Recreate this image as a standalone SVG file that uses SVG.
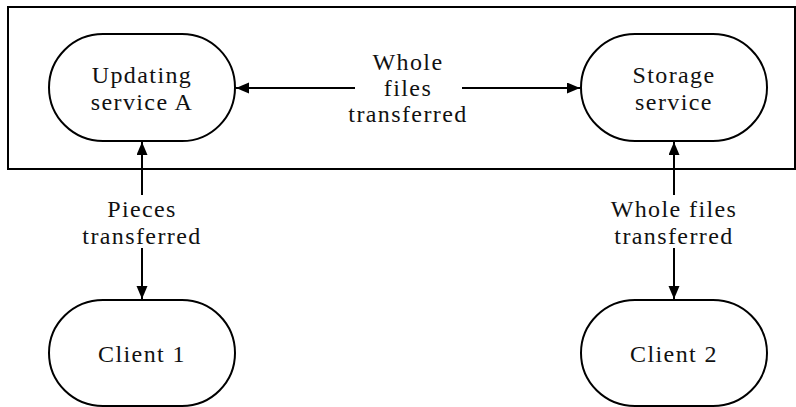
<svg xmlns="http://www.w3.org/2000/svg" width="796" height="407" viewBox="0 0 796 407" font-family="Liberation Serif, Times New Roman, serif">
<defs>
<style>
.box{fill:#fff;stroke:#000;stroke-width:2}
.frame{fill:none;stroke:#000;stroke-width:2}
.edge{stroke:#000;stroke-width:2;fill:none;marker-end:url(#ah)}
.t{font-family:Liberation Serif, Times New Roman, serif;font-size:24px;fill:#111;text-anchor:middle;letter-spacing:1.4px}
</style>
<marker id="ah" markerUnits="userSpaceOnUse" markerWidth="14" markerHeight="12" refX="13" refY="5.5" orient="auto">
<path d="M0,0 L13,5.5 L0,11 Z" fill="#000"/>
</marker>
</defs>
<rect class="frame" x="8" y="7" width="787" height="162"/>
<g id="connectors">
<line class="edge" x1="355" y1="88" x2="236" y2="88"/>
<line class="edge" x1="462" y1="88" x2="580" y2="88"/>
<line class="edge" x1="142" y1="195" x2="142" y2="142"/>
<line class="edge" x1="142" y1="248" x2="142" y2="299"/>
<line class="edge" x1="674" y1="195" x2="674" y2="142"/>
<line class="edge" x1="674" y1="248" x2="674" y2="299"/>
<text class="t" x="408" y="70">Whole</text>
<text class="t" x="408" y="96">files</text>
<text class="t" x="408" y="122">transferred</text>
<text class="t" x="142" y="217">Pieces</text>
<text class="t" x="142" y="244">transferred</text>
<text class="t" x="674" y="217">Whole files</text>
<text class="t" x="674" y="244">transferred</text>
</g>
<g id="updating">
<path class="box" d="M103,34 H182 A53,53.5 0 0 1 182,141 H103 A54,53.5 0 0 1 103,34 Z"/>
<text class="t" x="142" y="83">Updating</text>
<text class="t" x="142" y="110">service A</text>
</g>
<g id="storage">
<path class="box" d="M635,34 H713 A54,53.5 0 0 1 713,141 H635 A54,53.5 0 0 1 635,34 Z"/>
<text class="t" x="674" y="83">Storage</text>
<text class="t" x="674" y="110">service</text>
</g>
<g id="client1">
<path class="box" d="M103,300 H182 A53,53 0 0 1 182,406 H103 A54,53 0 0 1 103,300 Z"/>
<text class="t" x="142" y="362">Client 1</text>
</g>
<g id="client2">
<path class="box" d="M635,300 H713 A54,53 0 0 1 713,406 H635 A54,53 0 0 1 635,300 Z"/>
<text class="t" x="674" y="362">Client 2</text>
</g>
</svg>
